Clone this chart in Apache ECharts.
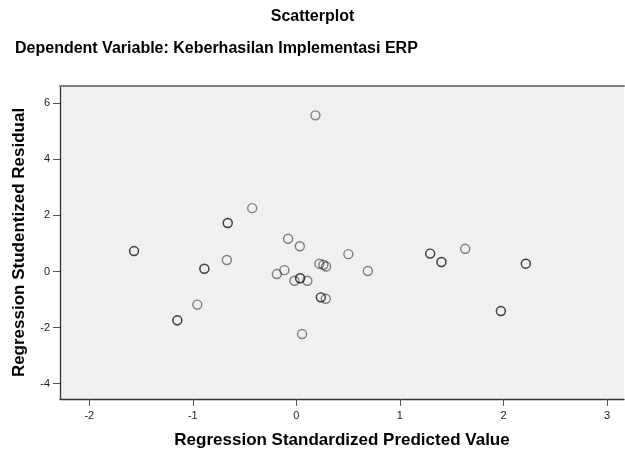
<!DOCTYPE html>
<html>
<head>
<meta charset="utf-8">
<script src="https://cdn.jsdelivr.net/npm/echarts@6/dist/echarts.min.js"></script>
<style>
html,body{margin:0;padding:0;background:#fff;}
#chart{width:625px;height:457px;}
</style>
</head>
<body>
<div id="chart"></div>
<script>
// Regression standardized predicted values (x) and studentized residuals (y)
var predicted = [0.184, -0.427, -0.663, -0.663, -0.080, 0.033, -1.568, -1.568, -0.889, -0.889, -0.672,
  0.222, 0.261, 0.287, -0.189, -0.116, -0.019, 0.036, 0.036, 0.106, 0.236, 0.236, 0.284,
  -0.957, -1.150, -1.150, 0.055, 0.502, 0.690, 1.292, 1.292, 1.401, 1.401, 1.630, 2.216, 2.216, 1.975, 1.975];
var residual = [5.57, 2.26, 1.73, 1.73, 1.17, 0.90, 0.73, 0.73, 0.10, 0.10, 0.41,
  0.28, 0.24, 0.18, -0.09, 0.05, -0.33, -0.24, -0.24, -0.33, -0.92, -0.92, -0.97,
  -1.18, -1.74, -1.74, -2.23, 0.62, 0.02, 0.64, 0.64, 0.34, 0.34, 0.81, 0.28, 0.28, -1.41, -1.41];
var xTicks = [-2, -1, 0, 1, 2, 3];
var yTicks = [-4, -2, 0, 2, 4, 6];
var titleText = 'Scatterplot';
var subtitleText = 'Dependent Variable: Keberhasilan Implementasi ERP';
var xName = 'Regression Standardized Predicted Value';
var yName = 'Regression Studentized Residual';

var points = predicted.map(function (x, i) { return [x, residual[i]]; });

var chart = echarts.init(document.getElementById('chart'), null, {renderer: 'canvas'});
var font = 'Arial, "Liberation Sans", sans-serif';
chart.setOption({
  animation: false,
  backgroundColor: '#ffffff',
  title: [
    {text: titleText, left: 'center', top: 4,
     textStyle: {fontFamily: font, fontSize: 16, fontWeight: 'bold', color: '#000'}},
    {text: subtitleText, left: 10, top: 36,
     textStyle: {fontFamily: font, fontSize: 16, fontWeight: 'bold', color: '#000'}}
  ],
  grid: {left: 60, right: 1, top: 86, bottom: 58, show: true, backgroundColor: '#f0f0f0', borderWidth: 0,
         containLabel: false, outerBoundsMode: 'none'},
  xAxis: [{
    type: 'value', min: -2.283, max: 3.164,
    name: xName, nameLocation: 'middle', nameGap: 33,
    nameTextStyle: {fontFamily: font, fontSize: 17, fontWeight: 'bold', color: '#000'},
    axisLine: {show: true, onZero: false, lineStyle: {color: '#333', width: 1.3}},
    axisTick: {show: true, length: 7, customValues: xTicks, lineStyle: {color: '#555'}},
    axisLabel: {customValues: xTicks, margin: 11, fontFamily: font, fontSize: 11, color: '#222'},
    splitLine: {show: false}
  }, {
    type: 'value', position: 'top', min: -2.283, max: 3.164,
    axisLine: {show: true, onZero: false, lineStyle: {color: '#808080', width: 2}},
    axisTick: {show: false}, axisLabel: {show: false}, splitLine: {show: false}
  }],
  yAxis: {
    type: 'value', min: -4.546, max: 6.617,
    name: yName, nameLocation: 'middle', nameGap: 32, nameRotate: 90,
    nameTextStyle: {fontFamily: font, fontSize: 17, fontWeight: 'bold', color: '#000'},
    axisLine: {show: true, onZero: false, lineStyle: {color: '#333', width: 1.3}},
    axisTick: {show: true, length: 7, customValues: yTicks, lineStyle: {color: '#555'}},
    axisLabel: {customValues: yTicks, margin: 10, fontFamily: font, fontSize: 11, color: '#222'},
    splitLine: {show: false}
  },
  series: [{
    type: 'scatter', xAxisIndex: 0,
    data: points,
    symbol: 'circle', symbolSize: 9,
    itemStyle: {color: 'rgba(0,0,0,0)', borderColor: 'rgba(0,0,0,0.6)', borderWidth: 1.4}
  }]
});
</script>
</body>
</html>
